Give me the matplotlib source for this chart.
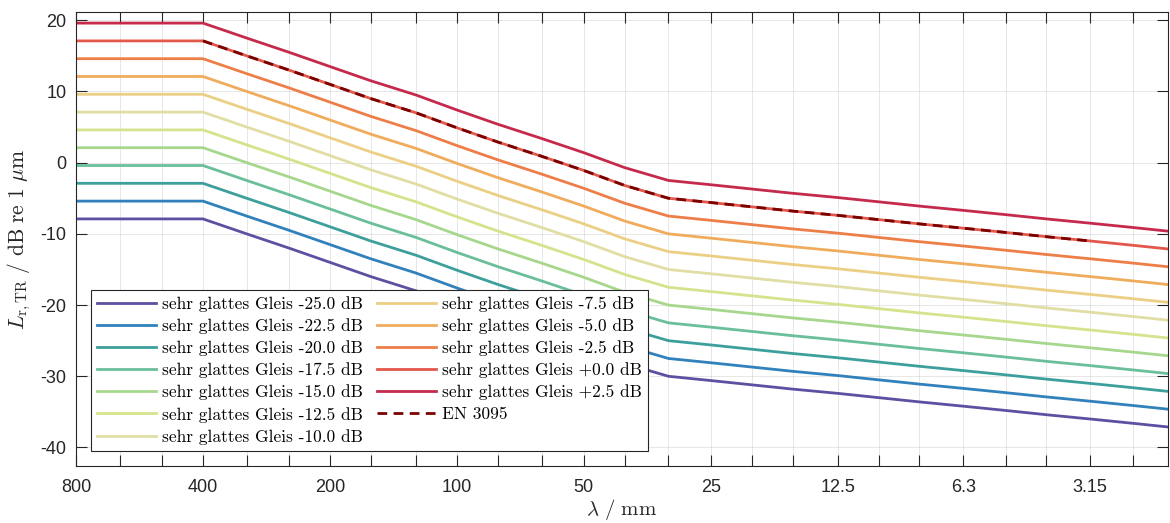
import numpy as np
import matplotlib
matplotlib.use('Agg')
import matplotlib.pyplot as plt
from matplotlib.ticker import FixedLocator, FixedFormatter, NullLocator

plt.rcParams['mathtext.fontset'] = 'cm'
plt.rcParams['axes.unicode_minus'] = False
plt.rcParams['font.family'] = 'Liberation Sans'

# Terzband-Wellenlängen in mm
wavelength = [800, 630, 500, 400, 315, 250, 200, 160, 125, 100, 80, 63, 50, 40,
              31.5, 25, 20, 16, 12.5, 10, 8, 6.3, 5, 4, 3.15, 2.5, 2.0]
# Rauheitspegel "sehr glattes Gleis" (+0.0 dB) in dB re 1 um
base_level = [17.1, 17.1, 17.1, 17.1, 15.0, 13.0, 11.0, 9.0, 7.0, 4.9, 2.9, 0.9, -1.1, -3.2,
              -5.0, -5.6, -6.2, -6.8, -7.4, -8.0, -8.6, -9.2, -9.8, -10.4, -11.0, -11.6, -12.2]
# Verschiebungen der Kurvenschar in dB
offsets = [-25.0, -22.5, -20.0, -17.5, -15.0, -12.5, -10.0, -7.5, -5.0, -2.5, 0.0, 2.5]

# Grenzkurve EN 3095
en3095_wavelength = [400, 315, 250, 200, 160, 125, 100, 80, 63, 50, 40, 31.5, 25, 20,
                     16, 12.5, 10, 8, 6.3, 5, 4, 3.15]
en3095_level = [17.1, 15.0, 13.0, 11.0, 9.0, 7.0, 4.9, 2.9, 0.9, -1.1, -3.2, -5.0, -5.6, -6.2,
                -6.8, -7.4, -8.0, -8.6, -9.2, -9.8, -10.4, -11.0]

# Achsenbeschriftung (nur Oktaven beschriftet)
tick_labels = ['800', '', '', '400', '', '', '200', '', '', '100', '', '', '50', '', '',
               '25', '', '', '12.5', '', '', '6.3', '', '', '3.15', '', '']

colors = ['#5E4FA2', '#3081BC', '#3D9F9C', '#6ABF9A', '#A6D78D', '#D4E38C',
          '#E0DEA4', '#EBCF85', '#F0AC5C', '#EE7E48', '#E2584A', '#C52A4C']

fig = plt.figure(figsize=(11.7, 5.23), dpi=100)
ax = fig.add_axes([76 / 1170, 1 - 466 / 523, 1092 / 1170, 454.3 / 523])

base = np.array(base_level)
for off, col in zip(offsets, colors):
    ax.plot(wavelength, base + off, color=col, lw=2.0,
            label='sehr glattes Gleis %+.1f dB' % off)
ax.plot(en3095_wavelength, en3095_level, color='#7A0000', lw=2.0, dashes=(3.5, 2.3),
        label='EN 3095')

ax.set_xscale('log')
ax.set_xlim(800, 2.06)
ax.set_ylim(-42.6, 21.2)
ax.xaxis.set_major_locator(FixedLocator(wavelength))
ax.xaxis.set_major_formatter(FixedFormatter(tick_labels))
ax.xaxis.set_minor_locator(NullLocator())
ax.set_yticks([-40, -30, -20, -10, 0, 10, 20])

ax.tick_params(direction='in', length=8, width=0.8, top=True, right=True,
               colors='#262626', labelsize=13)
ax.tick_params(axis='x', pad=9)
ax.tick_params(axis='y', pad=7)
for s in ax.spines.values():
    s.set_color('#262626')
    s.set_linewidth(0.8)
ax.grid(True, color='#262626', alpha=0.13, lw=0.6)

ax.set_xlabel(r'$\lambda\ /\ \mathrm{mm}$', fontsize=15, color='#262626')
ax.set_ylabel(r'$L_{\mathrm{r,TR}}\ /\ \mathrm{dB\ re\ 1}\ \mu\mathrm{m}$', fontsize=15.5,
              color='#262626')
ax.xaxis.set_label_coords(0.5, -0.068)
ax.yaxis.set_label_coords(-0.039, 0.5)

leg = ax.legend(ncol=2, loc='lower left', bbox_to_anchor=(0.0137, 0.0337), borderaxespad=0,
                prop={'family': 'cmr10', 'size': 12.5}, handlelength=3.4, handletextpad=0.35,
                columnspacing=0.8, labelspacing=0.36, fancybox=False, framealpha=1,
                borderpad=0.35)
leg.get_frame().set_edgecolor('#262626')
leg.get_frame().set_linewidth(0.8)

fig.savefig('out.png', dpi=100)
